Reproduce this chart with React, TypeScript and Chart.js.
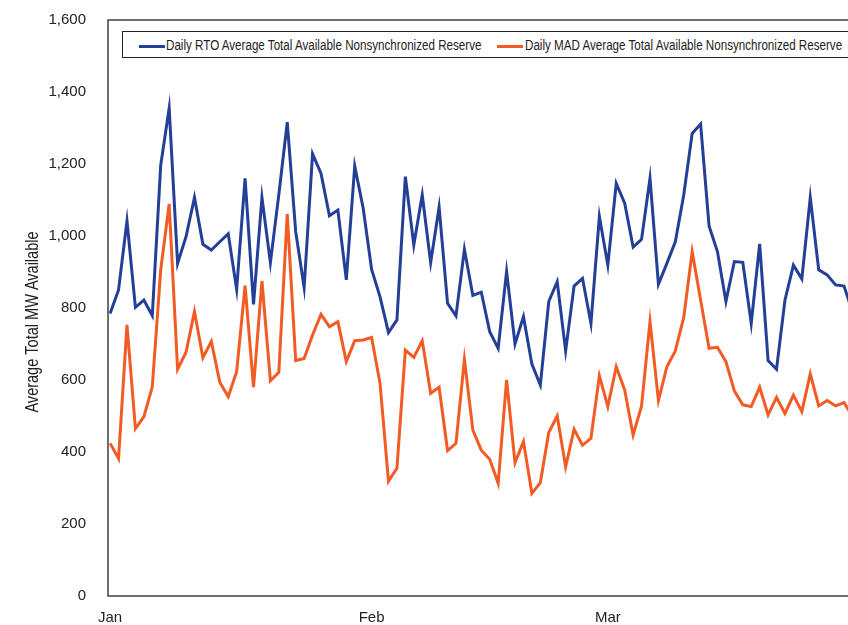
import React, { useEffect, useRef } from "react";
import { Chart, registerables } from "chart.js";

Chart.register(...registerables);

const monthLabels = ["Jan", "Feb", "Mar"];
const monthStartIdx = [0, 31, 59];

const rtoLabel = "Daily RTO Average Total Available Nonsynchronized Reserve";
const madLabel = "Daily MAD Average Total Available Nonsynchronized Reserve";
const yTitle = "Average Total MW Available";

const rtoValues = [
  785, 850, 1042, 802, 822, 779, 1197, 1355, 924, 998, 1107, 977, 961, 984, 1006, 852,
  1160, 810, 1107, 926, 1115, 1316, 1012, 857, 1228, 1174, 1056, 1072, 878, 1194, 1077,
  907, 831, 732, 767, 1165, 975, 1114, 926, 1080, 813, 778, 963, 835, 844, 734, 688,
  901, 700, 776, 644, 586, 818, 873, 681, 861, 882, 757, 1054, 919, 1146, 1091, 969,
  991, 1160, 866, 924, 984, 1114, 1285, 1311, 1028, 956, 818, 929, 927, 757, 978, 654,
  630, 822, 919, 881, 1107, 906, 892, 864, 861, 790,
];

const madValues = [
  424, 382, 753, 465, 498, 581, 906, 1089, 630, 677, 790, 662, 707, 594, 554, 623,
  862, 580, 875, 598, 621, 1061, 654, 660, 725, 782, 748, 762, 651, 709, 711,
  718, 590, 319, 355, 683, 663, 709, 563, 580, 404, 424, 657, 461, 405, 380, 313,
  600, 370, 429, 285, 315, 454, 500, 359, 463, 419, 438, 612, 526, 637, 572, 447,
  528, 762, 543, 637, 681, 774, 956, 822, 688, 691, 651, 570, 531, 526, 580, 503,
  552, 507, 558, 512, 617, 528, 543, 528, 537, 500,
];

const rtoColor = "#233f97";
const madColor = "#f35b24";
const FONT = "'Liberation Sans', Arial, sans-serif";
const NARROW = 0.83;

const frame = {
  id: "frame",
  afterDraw(chart: any) {
    const { ctx, chartArea } = chart;
    ctx.save();
    ctx.strokeStyle = "#222";
    ctx.lineWidth = 1.3;
    ctx.strokeRect(chartArea.left, chartArea.top, chartArea.right - chartArea.left, chartArea.bottom - chartArea.top);
    // y-axis title, condensed
    ctx.translate(33, 322);
    ctx.rotate(-Math.PI / 2);
    ctx.scale(NARROW, 1);
    ctx.fillStyle = "#222";
    ctx.font = `17.5px ${FONT}`;
    ctx.textAlign = "center";
    ctx.textBaseline = "middle";
    ctx.fillText(yTitle, 0, 0);
    ctx.restore();
  },
};

export default function App() {
  const ref = useRef<HTMLCanvasElement>(null);
  useEffect(() => {
    if (!ref.current) return;
    const chart = new Chart(ref.current, {
      type: "line",
      data: {
        datasets: [
          {
            label: rtoLabel,
            data: rtoValues.map((v, i) => ({ x: i, y: v })),
            borderColor: rtoColor,
            backgroundColor: rtoColor,
            borderWidth: 3,
            pointRadius: 0,
            tension: 0,
          },
          {
            label: madLabel,
            data: madValues.map((v, i) => ({ x: i, y: v })),
            borderColor: madColor,
            backgroundColor: madColor,
            borderWidth: 3,
            pointRadius: 0,
            tension: 0,
          },
        ],
      },
      options: {
        animation: false,
        responsive: false,
        layout: { padding: { top: 20, right: 17, bottom: 0, left: 0 } },
        plugins: { legend: { display: false }, tooltip: { enabled: false } },
        scales: {
          x: {
            type: "linear",
            min: -0.25,
            max: 89.25,
            grid: { display: false, drawTicks: true, tickLength: 8 },
            border: { display: false },
            afterFit: (s: any) => {
              s.height = 29;
            },
            afterBuildTicks: (s: any) => {
              s.ticks = monthStartIdx.map((v) => ({ value: v }));
            },
            ticks: {
              autoSkip: false,
              maxRotation: 0,
              padding: 5,
              color: "#222",
              font: { family: FONT, size: 15 },
              callback: (v: any) => {
                const k = monthStartIdx.indexOf(Number(v));
                return k >= 0 ? monthLabels[k] : "";
              },
            },
          },
          y: {
            min: 0,
            max: 1600,
            grid: { display: false, drawTicks: true, tickLength: 22 },
            border: { display: false },
            afterFit: (s: any) => {
              s.width = 108;
            },
            ticks: {
              stepSize: 200,
              padding: 0,
              color: "#222",
              font: { family: FONT, size: 15 },
              callback: (v: any) => Number(v).toLocaleString("en-US"),
            },
          },
        },
      },
      plugins: [frame],
    });
    return () => chart.destroy();
  }, []);

  const sample = (color: string, left: number) => (
    <div style={{ position: "absolute", left, top: 13, width: 26, height: 3, background: color }} />
  );
  const text = (t: string, left: number) => (
    <span
      style={{
        position: "absolute",
        left,
        top: 5,
        lineHeight: "16px",
        transform: `scaleX(${NARROW})`,
        transformOrigin: "0 0",
        whiteSpace: "nowrap",
      }}
    >
      {t}
    </span>
  );

  return (
    <div style={{ position: "fixed", left: 0, top: 0, width: 880, height: 625, background: "#fff" }}>
      <canvas ref={ref} width={880} height={625} style={{ display: "block" }} />
      <div
        style={{
          position: "absolute",
          left: 122,
          top: 31,
          width: 760,
          height: 27,
          border: "1px solid #222",
          background: "#fff",
          fontFamily: FONT,
          fontSize: 14,
          color: "#222",
          boxSizing: "border-box",
        }}
      >
        {sample(rtoColor, 16)}
        {text(rtoLabel, 43)}
        {sample(madColor, 374)}
        {text(madLabel, 402)}
      </div>
    </div>
  );
}
